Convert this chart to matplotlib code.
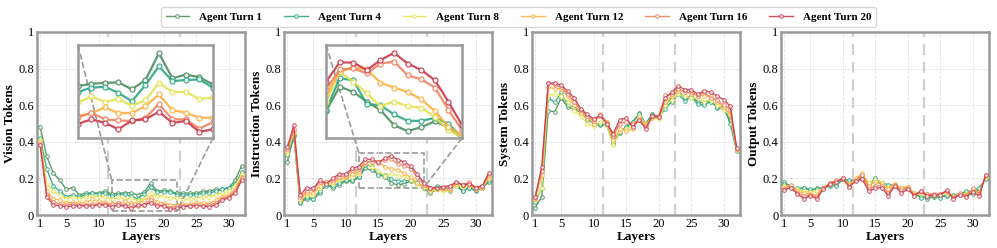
import matplotlib
matplotlib.use("Agg")
import matplotlib.pyplot as plt
from mpl_toolkits.axes_grid1.inset_locator import mark_inset

plt.rcParams["font.family"] = "serif"
plt.rcParams["font.serif"] = ["Liberation Serif", "DejaVu Serif"]

layers = list(range(1, 33))
turns = ["Agent Turn 1", "Agent Turn 4", "Agent Turn 8",
         "Agent Turn 12", "Agent Turn 16", "Agent Turn 20"]
colors = ["#4E8F5E", "#2BA884", "#E3E350", "#FDB042", "#F2825F", "#C93A4E"]
panel_labels = ["Vision Tokens", "Instruction Tokens", "System Tokens", "Output Tokens"]
xtick_vals = [1, 5, 10, 15, 20, 25, 30]
ytick_vals = [0, 0.2, 0.4, 0.6, 0.8, 1]
ytick_text = ["0", "0.2", "0.4", "0.6", "0.8", "1"]
divider_layers = [11.5, 22.5]

# ---- Vision tokens ----
vision_t1 = [0.48, 0.32, 0.23, 0.19, 0.14, 0.15, 0.11, 0.12, 0.12, 0.12, 0.13,
             0.115, 0.119, 0.121, 0.1215, 0.109, 0.126, 0.175, 0.129, 0.136, 0.131, 0.118,
             0.12, 0.12, 0.12, 0.13, 0.13, 0.14, 0.14, 0.15, 0.19, 0.27]
vision_t4 = [0.42, 0.25, 0.16, 0.13, 0.10, 0.11, 0.10, 0.11, 0.12, 0.115, 0.12,
             0.104, 0.112, 0.1135, 0.1025, 0.087, 0.117, 0.151, 0.124, 0.126, 0.127, 0.112,
             0.11, 0.11, 0.11, 0.12, 0.12, 0.13, 0.14, 0.15, 0.17, 0.235]
vision_t8 = [0.41, 0.17, 0.13, 0.11, 0.09, 0.10, 0.09, 0.10, 0.105, 0.10, 0.10,
             0.085, 0.096, 0.086, 0.091, 0.079, 0.089, 0.121, 0.104, 0.104, 0.091, 0.094,
             0.09, 0.085, 0.09, 0.10, 0.10, 0.11, 0.12, 0.13, 0.16, 0.225]
vision_t12 = [0.40, 0.13, 0.09, 0.08, 0.065, 0.07, 0.065, 0.07, 0.085, 0.075, 0.07,
              0.060, 0.065, 0.076, 0.065, 0.066, 0.078, 0.0995, 0.071, 0.066, 0.057, 0.057,
              0.06, 0.06, 0.065, 0.065, 0.065, 0.08, 0.10, 0.11, 0.14, 0.21]
vision_t16 = [0.39, 0.11, 0.07, 0.06, 0.055, 0.06, 0.055, 0.055, 0.06, 0.06, 0.06,
              0.058, 0.066, 0.054, 0.052, 0.051, 0.057, 0.082, 0.054, 0.054, 0.037, 0.049,
              0.05, 0.05, 0.055, 0.05, 0.055, 0.065, 0.09, 0.10, 0.13, 0.20]
vision_t20 = [0.38, 0.10, 0.055, 0.05, 0.045, 0.05, 0.05, 0.05, 0.05, 0.055, 0.055,
              0.046, 0.054, 0.0475, 0.036, 0.052, 0.054, 0.068, 0.0475, 0.051, 0.031, 0.036,
              0.045, 0.05, 0.05, 0.05, 0.045, 0.055, 0.08, 0.095, 0.12, 0.19]

# ---- Instruction tokens ----
instr_t1 = [0.29, 0.43, 0.065, 0.09, 0.085, 0.12, 0.17, 0.145, 0.165, 0.185, 0.185,
            0.205, 0.255, 0.244, 0.224, 0.207, 0.176, 0.164, 0.172, 0.184, 0.171, 0.149,
            0.12, 0.14, 0.14, 0.13, 0.165, 0.13, 0.15, 0.13, 0.15, 0.18]
instr_t4 = [0.33, 0.44, 0.07, 0.10, 0.09, 0.13, 0.16, 0.16, 0.175, 0.19, 0.19,
            0.207, 0.272, 0.268, 0.219, 0.217, 0.198, 0.185, 0.185, 0.191, 0.179, 0.151,
            0.13, 0.16, 0.15, 0.14, 0.16, 0.13, 0.15, 0.135, 0.15, 0.19]
instr_t8 = [0.34, 0.45, 0.08, 0.11, 0.11, 0.15, 0.17, 0.17, 0.19, 0.20, 0.21,
            0.224, 0.285, 0.265, 0.241, 0.215, 0.224, 0.215, 0.212, 0.193, 0.166, 0.152,
            0.13, 0.14, 0.13, 0.135, 0.16, 0.155, 0.165, 0.14, 0.15, 0.20]
instr_t12 = [0.35, 0.46, 0.09, 0.12, 0.12, 0.16, 0.18, 0.18, 0.20, 0.205, 0.225,
             0.237, 0.285, 0.294, 0.290, 0.263, 0.253, 0.244, 0.229, 0.205, 0.173, 0.155,
             0.14, 0.14, 0.14, 0.14, 0.17, 0.16, 0.165, 0.145, 0.15, 0.21]
instr_t16 = [0.36, 0.47, 0.10, 0.13, 0.14, 0.18, 0.18, 0.19, 0.21, 0.215, 0.245,
             0.249, 0.290, 0.292, 0.282, 0.302, 0.306, 0.278, 0.270, 0.253, 0.207, 0.166,
             0.15, 0.145, 0.15, 0.15, 0.18, 0.165, 0.18, 0.15, 0.155, 0.22]
instr_t20 = [0.37, 0.49, 0.11, 0.15, 0.145, 0.19, 0.17, 0.20, 0.225, 0.225, 0.255,
             0.265, 0.3045, 0.304, 0.289, 0.309, 0.324, 0.302, 0.289, 0.268, 0.224, 0.176,
             0.15, 0.15, 0.155, 0.16, 0.18, 0.165, 0.17, 0.15, 0.16, 0.23]

# ---- System tokens ----
system_t1 = [0.04, 0.10, 0.57, 0.565, 0.64, 0.59, 0.58, 0.56, 0.53, 0.50, 0.49,
             0.50, 0.39, 0.45, 0.48, 0.51, 0.555, 0.50, 0.55, 0.54, 0.60, 0.64,
             0.68, 0.64, 0.65, 0.62, 0.61, 0.63, 0.585, 0.58, 0.52, 0.355]
system_t4 = [0.07, 0.15, 0.64, 0.615, 0.67, 0.60, 0.59, 0.57, 0.52, 0.50, 0.495,
             0.49, 0.40, 0.455, 0.48, 0.51, 0.55, 0.50, 0.545, 0.535, 0.58, 0.62,
             0.66, 0.625, 0.645, 0.605, 0.60, 0.62, 0.59, 0.59, 0.50, 0.35]
system_t8 = [0.08, 0.15, 0.655, 0.66, 0.65, 0.62, 0.57, 0.54, 0.50, 0.485, 0.51,
             0.49, 0.38, 0.46, 0.47, 0.49, 0.54, 0.50, 0.53, 0.525, 0.60, 0.63,
             0.66, 0.65, 0.64, 0.64, 0.62, 0.63, 0.60, 0.575, 0.545, 0.355]
system_t12 = [0.09, 0.22, 0.70, 0.69, 0.69, 0.65, 0.60, 0.56, 0.53, 0.50, 0.55,
              0.51, 0.41, 0.47, 0.46, 0.47, 0.53, 0.49, 0.53, 0.535, 0.62, 0.65,
              0.68, 0.68, 0.66, 0.66, 0.65, 0.65, 0.62, 0.59, 0.55, 0.36]
system_t16 = [0.095, 0.24, 0.72, 0.71, 0.70, 0.66, 0.62, 0.575, 0.54, 0.515, 0.54,
              0.505, 0.43, 0.50, 0.51, 0.50, 0.52, 0.48, 0.54, 0.54, 0.655, 0.66,
              0.69, 0.67, 0.67, 0.65, 0.67, 0.64, 0.63, 0.60, 0.58, 0.36]
system_t20 = [0.10, 0.264, 0.723, 0.72, 0.71, 0.675, 0.64, 0.58, 0.55, 0.525, 0.545,
              0.50, 0.445, 0.52, 0.53, 0.48, 0.52, 0.47, 0.54, 0.535, 0.64, 0.67,
              0.705, 0.685, 0.685, 0.66, 0.68, 0.67, 0.65, 0.63, 0.595, 0.365]

# ---- Output tokens ----
output_t1 = [0.18, 0.155, 0.14, 0.15, 0.135, 0.145, 0.15, 0.16, 0.165, 0.195, 0.185,
             0.19, 0.20, 0.165, 0.19, 0.165, 0.16, 0.16, 0.14, 0.145, 0.115, 0.10,
             0.09, 0.10, 0.10, 0.105, 0.105, 0.11, 0.12, 0.115, 0.14, 0.20]
output_t4 = [0.17, 0.16, 0.145, 0.145, 0.14, 0.14, 0.15, 0.165, 0.16, 0.195, 0.19,
             0.19, 0.215, 0.17, 0.20, 0.175, 0.165, 0.165, 0.15, 0.15, 0.12, 0.095,
             0.10, 0.105, 0.095, 0.11, 0.11, 0.115, 0.13, 0.13, 0.15, 0.195]
output_t8 = [0.16, 0.16, 0.14, 0.13, 0.125, 0.13, 0.15, 0.17, 0.18, 0.20, 0.17,
             0.19, 0.225, 0.175, 0.19, 0.18, 0.15, 0.17, 0.15, 0.155, 0.12, 0.115,
             0.105, 0.11, 0.11, 0.12, 0.10, 0.115, 0.115, 0.135, 0.125, 0.21]
output_t12 = [0.155, 0.16, 0.13, 0.12, 0.115, 0.11, 0.15, 0.175, 0.185, 0.20, 0.165,
              0.20, 0.23, 0.16, 0.18, 0.17, 0.14, 0.17, 0.145, 0.155, 0.115, 0.12,
              0.115, 0.11, 0.115, 0.125, 0.10, 0.115, 0.11, 0.14, 0.12, 0.215]
output_t16 = [0.14, 0.165, 0.12, 0.105, 0.11, 0.10, 0.145, 0.175, 0.19, 0.195, 0.155,
              0.19, 0.22, 0.14, 0.16, 0.16, 0.12, 0.165, 0.135, 0.15, 0.11, 0.13,
              0.115, 0.115, 0.115, 0.13, 0.095, 0.12, 0.105, 0.145, 0.115, 0.22]
output_t20 = [0.135, 0.15, 0.115, 0.09, 0.105, 0.09, 0.14, 0.17, 0.18, 0.20, 0.155,
              0.185, 0.195, 0.13, 0.145, 0.15, 0.105, 0.16, 0.12, 0.14, 0.105, 0.13,
              0.105, 0.11, 0.11, 0.135, 0.09, 0.11, 0.10, 0.125, 0.105, 0.22]

panels = [
    [vision_t1, vision_t4, vision_t8, vision_t12, vision_t16, vision_t20],
    [instr_t1, instr_t4, instr_t8, instr_t12, instr_t16, instr_t20],
    [system_t1, system_t4, system_t8, system_t12, system_t16, system_t20],
    [output_t1, output_t4, output_t8, output_t12, output_t16, output_t20],
]

# zoom windows: panel index -> (x range, y range, inset bounds in axes fraction)
zooms = {
    0: ((12, 22), (0.02, 0.19), [0.197, 0.421, 0.649, 0.508]),
    1: ((12, 22), (0.15, 0.34), [0.202, 0.421, 0.654, 0.508]),
}

SPINE = "#9a9a9a"

fig = plt.figure(figsize=(9.97, 2.48), dpi=100)
lefts = [0.0371, 0.2849, 0.5336, 0.7834]
axes = [fig.add_axes([l, 0.133, 0.2086, 0.738]) for l in lefts]

for i, ax in enumerate(axes):
    for series, c, lab in zip(panels[i], colors, turns):
        ax.plot(layers, series, color=c, lw=1.0, marker="o", ms=2.6,
                mfc="white", mew=0.7, alpha=0.9, label=lab, zorder=3)
    for xv in divider_layers:
        ax.axvline(xv, color="#cfcfcf", lw=1.6, ls=(0, (5, 3)), zorder=2)
    ax.set_xlim(0.5, 32.5)
    ax.set_ylim(0, 1)
    ax.set_xticks(xtick_vals)
    ax.set_yticks(ytick_vals)
    ax.set_yticklabels(ytick_text)
    ax.tick_params(length=0, pad=2, labelsize=9)
    ax.grid(True, color="#e2e2e2", ls="--", lw=0.6, zorder=0)
    ax.set_xlabel("Layers", fontsize=9.5, fontweight="bold", labelpad=1)
    ax.set_ylabel(panel_labels[i], fontsize=9.5, fontweight="bold", labelpad=2)
    for sp in ax.spines.values():
        sp.set_color(SPINE)
        sp.set_linewidth(1.8)

    if i in zooms:
        xr, yr, bounds = zooms[i]
        axins = ax.inset_axes(bounds)
        for series, c in zip(panels[i], colors):
            axins.plot(layers, series, color=c, lw=1.6, marker="o", ms=3.6,
                       mfc="white", mew=0.9, alpha=0.9)
        axins.set_xlim(*xr)
        axins.set_ylim(*yr)
        axins.set_xticks([])
        axins.set_yticks([])
        axins.set_facecolor("white")
        for sp in axins.spines.values():
            sp.set_color(SPINE)
            sp.set_linewidth(1.8)
        mark_inset(ax, axins, loc1=2, loc2=4, fc="none", ec="#9a9a9a",
                   ls="--", lw=1.2)

handles, labels = axes[0].get_legend_handles_labels()
leg = fig.legend(handles, labels, loc="upper center", bbox_to_anchor=(0.52, 0.995),
                 ncol=6, frameon=True, fancybox=True,
                 prop={"weight": "bold", "size": 8}, handlelength=2.1,
                 handletextpad=0.9, columnspacing=2.0, borderpad=0.45,
                 edgecolor="#cccccc")

fig.savefig("out.png", dpi=100)
